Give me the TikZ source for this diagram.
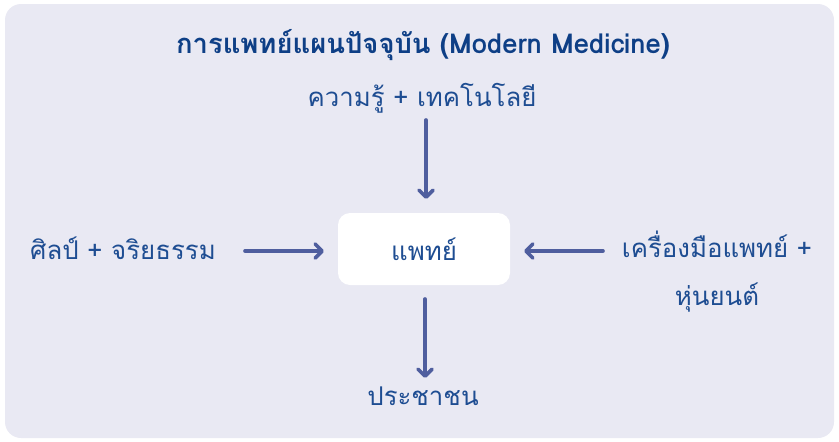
\documentclass[tikz,border=0pt]{standalone}
\usepackage{fontspec}
\newfontfamily\thaifont[Script=Thai]{Loma}
\usetikzlibrary{arrows.meta}
\definecolor{bgc}{HTML}{E9E9F3}
\definecolor{titlec}{HTML}{0E3F86}
\definecolor{txtc}{HTML}{1E4D92}
\definecolor{arrc}{HTML}{4F5E9E}
\tikzset{
  lbl/.style={font=\thaifont\fontsize{25.8}{48}\selectfont, text=txtc, inner sep=0pt, align=center},
  flow/.style={draw=arrc, line width=3.6pt, line cap=round, -{Straight Barb[length=7pt,width=14pt,line cap=round,line join=round]}},
}
\begin{document}
\begin{tikzpicture}[x=1pt,y=-1pt]
\useasboundingbox (0,0) rectangle (839,442);
\fill[bgc, rounded corners=16pt] (5,4) rectangle (834,438);
\node[font=\thaifont\bfseries\fontsize{27.4}{32}\selectfont, text=titlec, inner sep=0pt] (title) at (423,45) {การแพทย์แผนปัจจุบัน (Modern Medicine)};
\node[lbl] (know) at (422,98) {ความรู้ + เทคโนโลยี};
\node[fill=white, rounded corners=12pt, minimum width=172pt, minimum height=72pt, inner sep=0pt] (doc) at (424,249) {};
\node[lbl] at (doc.center) {แพทย์};
\node[lbl] (art) at (123,248) {ศิลป์ + จริยธรรม};
\node[lbl] (tool) at (717,272) {เครื่องมือแพทย์ +\\หุ่นยนต์};
\node[lbl] (people) at (423,396) {ประชาชน};
\coordinate (a1) at (426,120); \coordinate (a2) at (426,199);
\coordinate (b1) at (245,251); \coordinate (b2) at (324,251);
\coordinate (c1) at (603,251); \coordinate (c2) at (524,251);
\coordinate (d1) at (425,299); \coordinate (d2) at (425,378);
\draw[flow] (a1) -- (a2);
\draw[flow] (b1) -- (b2);
\draw[flow] (c1) -- (c2);
\draw[flow] (d1) -- (d2);
\end{tikzpicture}
\end{document}
